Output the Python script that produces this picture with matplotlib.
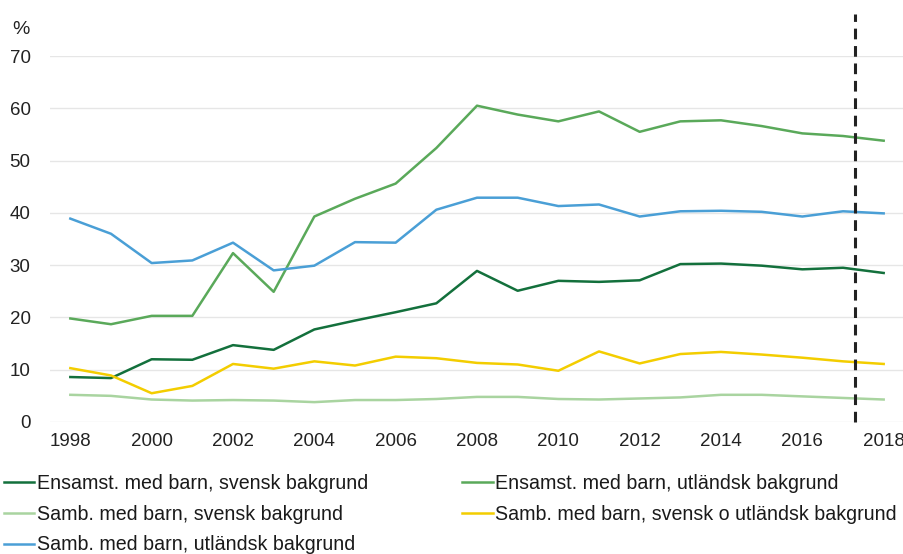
import matplotlib
matplotlib.use("Agg")
import matplotlib.pyplot as plt

plt.rcParams["font.family"] = ["Liberation Sans", "DejaVu Sans"]

years = list(range(1998, 2019))

ensamst_svensk = [8.6, 8.4, 12.0, 11.9, 14.7, 13.8, 17.7, 19.4, 21.0, 22.7, 28.9,
                  25.1, 27.0, 26.8, 27.1, 30.2, 30.3, 29.9, 29.2, 29.5, 28.5]
ensamst_utl = [19.8, 18.7, 20.3, 20.3, 32.3, 24.9, 39.3, 42.7, 45.6, 52.4, 60.5,
               58.8, 57.5, 59.4, 55.5, 57.5, 57.7, 56.6, 55.2, 54.7, 53.8]
samb_svensk = [5.2, 5.0, 4.3, 4.1, 4.2, 4.1, 3.8, 4.2, 4.2, 4.4, 4.8,
               4.8, 4.4, 4.3, 4.5, 4.7, 5.2, 5.2, 4.9, 4.6, 4.3]
samb_blandad = [10.3, 8.9, 5.5, 6.9, 11.1, 10.2, 11.6, 10.8, 12.5, 12.2, 11.3,
                11.0, 9.8, 13.5, 11.2, 13.0, 13.4, 12.9, 12.3, 11.6, 11.1]
samb_utl = [38.9, 36.0, 30.4, 30.9, 34.3, 29.0, 29.9, 34.4, 34.3, 40.6, 42.9,
            42.9, 41.3, 41.6, 39.3, 40.3, 40.4, 40.2, 39.3, 40.3, 39.9]

labels = [
    "Ensamst. med barn, svensk bakgrund",
    "Ensamst. med barn, utländsk bakgrund",
    "Samb. med barn, svensk bakgrund",
    "Samb. med barn, svensk o utländsk bakgrund",
    "Samb. med barn, utländsk bakgrund",
]
series = [ensamst_svensk, ensamst_utl, samb_svensk, samb_blandad, samb_utl]
colors = ["#13703c", "#5aa95a", "#a9d4a0", "#f3cd00", "#4a9fd6"]

break_year = 2017.3
xticks = list(range(1998, 2019, 2))
yticks = list(range(0, 71, 10))

fig = plt.figure(figsize=(9.04, 5.54), dpi=100)
ax = fig.add_axes([50 / 904, 132 / 554, 854 / 904, 366 / 554])

lines = []
for vals, lab, col in zip(series, labels, colors):
    ln, = ax.plot(years, vals, color=col, lw=1.8, label=lab)
    lines.append(ln)

ax.vlines(break_year, 0, 78, colors="#222222", linestyles=(0, (3.5, 2.2)), lw=2.2,
          clip_on=False, zorder=5)

ax.set_xlim(1997.5, 2018.5)
ax.set_ylim(0, 70)
ax.set_xticks(xticks)
ax.set_yticks(yticks)
ax.grid(axis="y", color="#e6e6e6", lw=1)
ax.set_axisbelow(True)
for s in ax.spines.values():
    s.set_visible(False)
ax.tick_params(length=0, labelsize=13.5, colors="#222222", pad=8)
ax.tick_params(axis="y", pad=14)

fig.text(12 / 904, 1 - 30 / 554, "%", fontsize=14, color="#222222", va="center")

# row-wise order in a two-column legend
order = [0, 2, 4, 1, 3]
fig.legend([lines[i] for i in order], [labels[i] for i in order],
           loc="upper left", bbox_to_anchor=(0.004, 1 - 474 / 554),
           ncol=2, frameon=False, fontsize=14.1, handlelength=1.55, handletextpad=0.15,
           columnspacing=4.8, labelspacing=0.6, borderaxespad=0, borderpad=0,
           labelcolor="#1a1a1a")

fig.savefig("out.png", dpi=100)
